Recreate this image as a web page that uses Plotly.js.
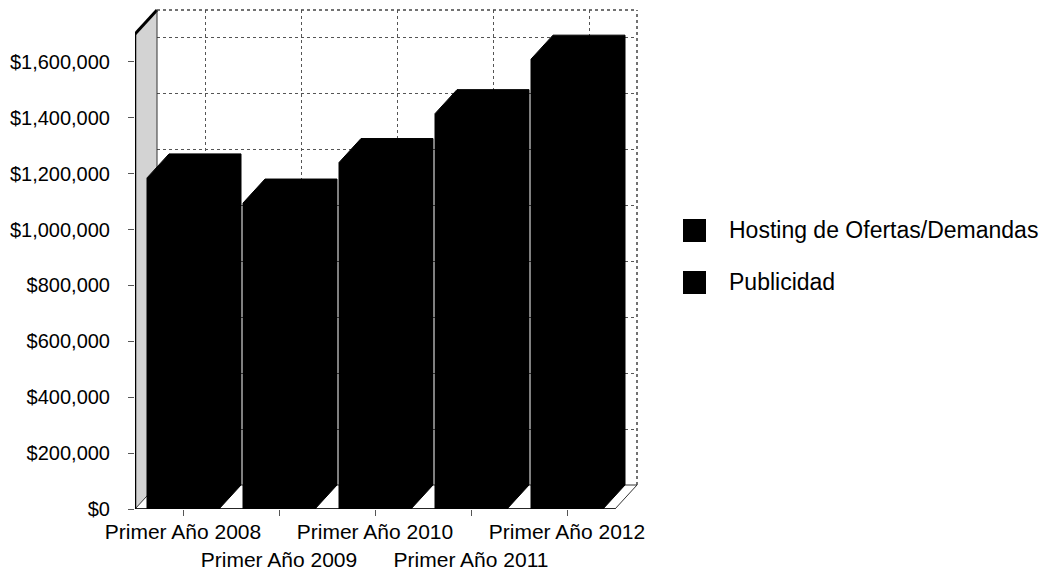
<!DOCTYPE html>
<html>
<head>
<meta charset="utf-8">
<script src="https://cdn.plot.ly/plotly-3.0.1.min.js"></script>
<style>
  html, body { margin: 0; padding: 0; background: #ffffff; }
  #chart { width: 1057px; height: 575px; }
</style>
</head>
<body>
<div id="chart"></div>
<script>
// Ingresos por año, apilados por fuente
const categories = ['Primer Año 2008', 'Primer Año 2009', 'Primer Año 2010', 'Primer Año 2011', 'Primer Año 2012'];
const hosting = [700000, 640000, 730000, 840000, 960000];
const publicidad = [485000, 455000, 510000, 575000, 650000];
const seriesNames = ['Hosting de Ofertas/Demandas', 'Publicidad'];
const yTicks = [0, 200000, 400000, 600000, 800000, 1000000, 1200000, 1400000, 1600000];
const yMax = 1700000;

// Page and plot geometry (pixels)
const W = 1057, H = 575;
const M = { l: 135, r: 417, t: 8, b: 66 };
const plotW = W - M.l - M.r;
const plotH = H - M.t - M.b;
const frontW = 480, frontH = 475;   // front face of the 3-D box
const depthX = 22, depthY = 24;     // oblique depth offset

const nCat = categories.length;
const pxPerCat = frontW / nCat;
const pxPerVal = frontH / yMax;
const dxd = depthX / pxPerCat;      // depth in category units
const dyd = depthY / pxPerVal;      // depth in value units
const barWidth = 0.75;

const idx = categories.map((_, i) => i);
const totals = idx.map(i => hosting[i] + publicidad[i]);

// Outline of each stacked column drawn as an oblique prism
const faceX = [], faceY = [];
idx.forEach(i => {
  const x0 = i - barWidth / 2, x1 = i + barWidth / 2, v = totals[i];
  faceX.push(x0, x0, x0 + dxd, x1 + dxd, x1 + dxd, x1, x0, null);
  faceY.push(0, v, v + dyd, v + dyd, dyd, 0, 0, null);
});

const moneyLabel = v => '$' + v.toLocaleString('en-US');

const traces = [
  // back wall subplot (gridlines only)
  { type: 'scatter', x: [], y: [], xaxis: 'x', yaxis: 'y', showlegend: false, hoverinfo: 'skip' },
  { type: 'bar', name: seriesNames[0], x: idx, y: hosting, width: barWidth,
    xaxis: 'x2', yaxis: 'y2', marker: { color: '#000000', line: { width: 0 } } },
  { type: 'bar', name: seriesNames[1], x: idx, y: publicidad, width: barWidth,
    xaxis: 'x2', yaxis: 'y2', marker: { color: '#000000', line: { width: 0 } } },
  { type: 'scatter', mode: 'lines', x: faceX, y: faceY, fill: 'toself', fillcolor: '#000000',
    line: { width: 1, color: '#000000' }, xaxis: 'x2', yaxis: 'y2',
    showlegend: false, hoverinfo: 'skip' }
];

const xp = px => (px - M.l) / plotW;
const yp = py => (H - M.b - py) / plotH;

const L = -0.5, R = nCat - 0.5;
const shapes = [
  // side wall
  { type: 'path', xref: 'x2', yref: 'y2', layer: 'below',
    path: `M${L},0 L${L},${yMax} L${L + dxd},${yMax + dyd} L${L + dxd},${dyd} Z`,
    fillcolor: '#d3d3d3', line: { width: 0 } },
  // floor
  { type: 'path', xref: 'x2', yref: 'y2', layer: 'below',
    path: `M${L},0 L${R},0 L${R + dxd},${dyd} L${L + dxd},${dyd} Z`,
    fillcolor: '#ffffff', line: { width: 1, color: '#333333' } },
  { type: 'line', xref: 'x2', yref: 'y2', layer: 'below', x0: L, x1: L, y0: 0, y1: yMax,
    line: { color: '#000000', width: 2.5 } },
  { type: 'line', xref: 'x2', yref: 'y2', layer: 'below', x0: L, x1: L + dxd, y0: yMax, y1: yMax + dyd,
    line: { color: '#000000', width: 3 } },
  { type: 'line', xref: 'x2', yref: 'y2', layer: 'below', x0: L + dxd, x1: L + dxd, y0: dyd, y1: yMax + dyd,
    line: { color: '#333333', width: 1 } },
  { type: 'line', xref: 'x2', yref: 'y2', layer: 'below', x0: L, x1: R, y0: 0, y1: 0,
    line: { color: '#000000', width: 1.5 } },
  { type: 'line', xref: 'x2', yref: 'y2', layer: 'below', x0: L + dxd, x1: R + dxd, y0: yMax + dyd, y1: yMax + dyd,
    line: { color: '#444444', width: 1.5, dash: 'dot' } },
  { type: 'line', xref: 'x2', yref: 'y2', layer: 'below', x0: R + dxd, x1: R + dxd, y0: dyd, y1: yMax + dyd,
    line: { color: '#444444', width: 1.5, dash: 'dot' } },
  // legend keys
  { type: 'rect', xref: 'paper', yref: 'paper', x0: xp(683), x1: xp(706), y0: yp(242), y1: yp(219),
    fillcolor: '#000000', line: { width: 0 } },
  { type: 'rect', xref: 'paper', yref: 'paper', x0: xp(683), x1: xp(706), y0: yp(294), y1: yp(271),
    fillcolor: '#000000', line: { width: 0 } }
];

const annotations = seriesNames.map((name, k) => ({
  xref: 'paper', yref: 'paper', x: xp(727), y: yp(230 + 52 * k),
  xanchor: 'left', yanchor: 'middle', showarrow: false, text: name,
  font: { size: 23, color: '#000000' }
}));

const layout = {
  width: W, height: H,
  margin: M,
  paper_bgcolor: '#ffffff',
  plot_bgcolor: 'rgba(0,0,0,0)',
  font: { family: '"Liberation Sans", Arial, sans-serif', color: '#000000' },
  showlegend: false,
  barmode: 'stack',
  xaxis: {
    domain: [depthX / plotW, (depthX + frontW) / plotW], anchor: 'y',
    range: [L, R], tickvals: idx, showticklabels: false, ticks: '',
    showgrid: true, gridcolor: '#555555', griddash: 'dot', gridwidth: 1,
    zeroline: false, showline: false, fixedrange: true
  },
  yaxis: {
    domain: [depthY / plotH, (depthY + frontH) / plotH], anchor: 'x',
    range: [0, yMax], tickvals: yTicks.slice(1), showticklabels: false, ticks: '',
    showgrid: true, gridcolor: '#555555', griddash: 'dot', gridwidth: 1,
    zeroline: false, showline: false, fixedrange: true
  },
  xaxis2: {
    domain: [0, 1], anchor: 'y2',
    range: [L, L + plotW / pxPerCat],
    tickvals: idx,
    ticktext: categories.map((c, i) => (i % 2 ? '<br>' + c : c)),
    tickangle: 0,
    ticks: 'outside', ticklen: 6, tickcolor: '#555555', tickwidth: 1,
    tickfont: { size: 21 }, ticklabelstandoff: -2,
    showgrid: false, zeroline: false, showline: false, fixedrange: true
  },
  yaxis2: {
    domain: [0, 1], anchor: 'x2',
    range: [0, plotH / pxPerVal],
    tickvals: yTicks, ticktext: yTicks.map(moneyLabel),
    ticks: 'outside', ticklen: 6, tickcolor: '#555555', tickwidth: 1,
    tickfont: { size: 20 }, ticklabelstandoff: 14,
    showgrid: false, zeroline: false, showline: false, fixedrange: true
  },
  shapes: shapes,
  annotations: annotations
};

Plotly.newPlot('chart', traces, layout, { displayModeBar: false, staticPlot: true });
</script>
</body>
</html>
